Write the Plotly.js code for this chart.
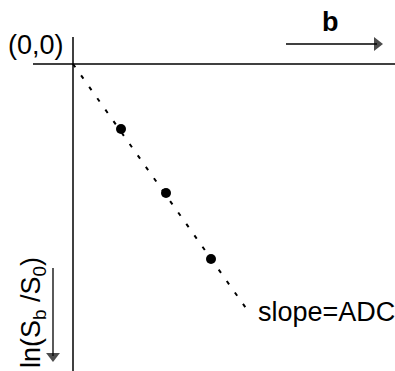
<!DOCTYPE html>
<html><head><meta charset="utf-8">
<script src="https://cdn.plot.ly/plotly-3.0.1.min.js"></script>
<style>html,body{margin:0;padding:0;background:#fff}#c{width:395px;height:371px}</style>
</head><body><div id="c"></div>
<script>
// Data (b in arbitrary units, ln(Sb/S0))
const bValues = [0.48, 0.93, 1.38];
const lnSignal = [-0.65, -1.29, -1.95];
const fitB = [0, 1.75];
const fitLn = [0, -2.47];
const originLabel = "(0,0)";
const xLabel = "b";
const yLabel = "ln(S<sub>b</sub> /S<sub>0</sub>)";
const slopeLabel = "slope=ADC";
// direction arrows (data coords)
const bArrowX = [2.13, 3.04];
const bArrowY = [0.20, 0.20];
const lnArrowX = [-0.20, -0.20];
const lnArrowY = [-2.04, -2.92];

const FONT = "Liberation Sans, Arial, Helvetica, sans-serif";
const traces = [
  {x: fitB, y: fitLn, mode: "lines", line: {color: "#000", width: 2, dash: "4px,10px"}, hoverinfo: "skip"},
  {x: bValues, y: lnSignal, mode: "markers", marker: {color: "#000", size: 10}},
  {x: bArrowX, y: bArrowY, mode: "lines+markers", line: {color: "#000", width: 1.3},
   marker: {symbol: "triangle-right", size: [0, 12], color: "#000", line: {width: 0}}},
  {x: lnArrowX, y: lnArrowY, mode: "lines+markers", line: {color: "#000", width: 1.3},
   marker: {symbol: "triangle-down", size: [0, 12], color: "#000", line: {width: 0}}}
];
const layout = {
  width: 395, height: 371,
  margin: {l: 0, r: 0, t: 0, b: 0},
  paper_bgcolor: "#fff", plot_bgcolor: "#fff",
  showlegend: false,
  xaxis: {range: [-0.73, 3.22], visible: false, fixedrange: true},
  yaxis: {range: [-3.07, 0.64], visible: false, fixedrange: true},
  shapes: [
    {type: "line", xref: "x", yref: "y", x0: -0.40, x1: 3.22, y0: 0, y1: 0, line: {color: "#000", width: 1.5}},
    {type: "line", xref: "x", yref: "y", x0: 0, x1: 0, y0: 0.27, y1: -3.07, line: {color: "#000", width: 1.5}}
  ],
  annotations: [
    {x: -0.37, y: 0.19, xref: "x", yref: "y", text: originLabel, showarrow: false, font: {family: FONT, size: 27, color: "#000"}},
    {x: 2.57, y: 0.42, xref: "x", yref: "y", text: "<b>" + xLabel + "</b>", showarrow: false, font: {family: FONT, size: 27, color: "#000"}},
    {x: -0.40, y: -2.49, xref: "x", yref: "y", text: yLabel, textangle: -90, showarrow: false, font: {family: FONT, size: 27, color: "#000"}},
    {x: 1.83, y: -2.48, xref: "x", yref: "y", xanchor: "left", text: slopeLabel, showarrow: false, font: {family: FONT, size: 27, color: "#000"}}
  ]
};
Plotly.newPlot("c", traces, layout, {displayModeBar: false, staticPlot: true});
</script></body></html>
